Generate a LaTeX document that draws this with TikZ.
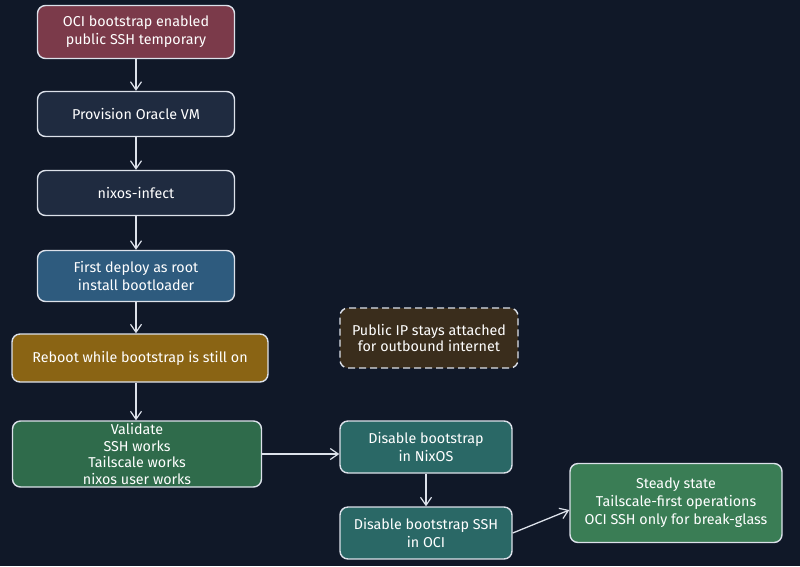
\documentclass[tikz,border=0pt]{standalone}
\usepackage{fontspec}
\setmainfont{Fira Sans}
\usetikzlibrary{arrows.meta,calc}
\definecolor{bg}{HTML}{101828}
\definecolor{edge}{HTML}{DCE1EA}
\definecolor{cMaroon}{HTML}{7B3A4A}
\definecolor{cSlate}{HTML}{1F2B40}
\definecolor{cBlue}{HTML}{2E5B7E}
\definecolor{cGold}{HTML}{8A6414}
\definecolor{cGreen}{HTML}{2F6B4B}
\definecolor{cTeal}{HTML}{2A6866}
\definecolor{cGreenB}{HTML}{3A7D55}
\definecolor{cBrown}{HTML}{3A2D1C}
\tikzset{
  box/.style={draw=edge, line width=1.4pt, rounded corners=8pt, text=white,
    align=center, inner sep=0pt, font=\fontsize{14.3}{16.8}\selectfont},
  flow/.style={draw=edge, line width=1.3pt, -{Straight Barb[length=8pt,width=11pt,line width=1.2pt]}},
}
\begin{document}
\begin{tikzpicture}[x=1pt,y=-1pt]
\fill[bg] (0,0) rectangle (800,566);
\useasboundingbox (0,0) rectangle (800,566);
\node[box, fill=cMaroon, minimum width=197pt, minimum height=53pt, font=\fontsize{14.3}{18}\selectfont] (n1) at (136,32) {OCI bootstrap enabled\\public SSH temporary};
\node[box, fill=cSlate, minimum width=197pt, minimum height=45pt] (n2) at (136,114) {Provision Oracle VM};
\node[box, fill=cSlate, minimum width=197pt, minimum height=45pt] (n3) at (136,193) {nixos-infect};
\node[box, fill=cBlue, minimum width=197pt, minimum height=51pt, font=\fontsize{14.3}{18}\selectfont] (n4) at (136,276) {First deploy as root\\install bootloader};
\node[box, fill=cGold, minimum width=256pt, minimum height=48pt] (n5) at (140,358) {Reboot while bootstrap is still on};
\node[box, fill=cGreen, minimum width=249pt, minimum height=66pt] (n6) at (137,454) {Validate\\SSH works\\Tailscale works\\nixos user works};
\node[box, fill=cTeal, minimum width=172pt, minimum height=52pt, font=\fontsize{14.3}{18}\selectfont] (n7) at (426,447) {Disable bootstrap\\in NixOS};
\node[box, fill=cTeal, minimum width=172pt, minimum height=52pt, font=\fontsize{14.3}{18}\selectfont] (n8) at (426,533) {Disable bootstrap SSH\\in OCI};
\node[box, fill=cGreenB, minimum width=212pt, minimum height=79pt, font=\fontsize{14.3}{18}\selectfont] (n9) at (676,503) {Steady state\\Tailscale-first operations\\OCI SSH only for break-glass};
\node[box, fill=cBrown, dash pattern=on 7pt off 4pt, minimum width=178pt, minimum height=60pt] (n10) at (429,338) {Public IP stays attached\\for outbound internet};
\draw[flow] (n1) -- (n2);
\draw[flow] (n2) -- (n3);
\draw[flow] (n3) -- (n4);
\draw[flow] (n4) -- (n5.north -| n4);
\draw[flow] (n5.south -| n4) -- (n6.north -| n4);
\draw[flow] (n6.east) -- (n7.west |- n6.east);
\draw[flow] (n7) -- (n8);
\draw[flow] (n8.east) -- ($(n9.west)+(0,7)$);
\end{tikzpicture}
\end{document}
